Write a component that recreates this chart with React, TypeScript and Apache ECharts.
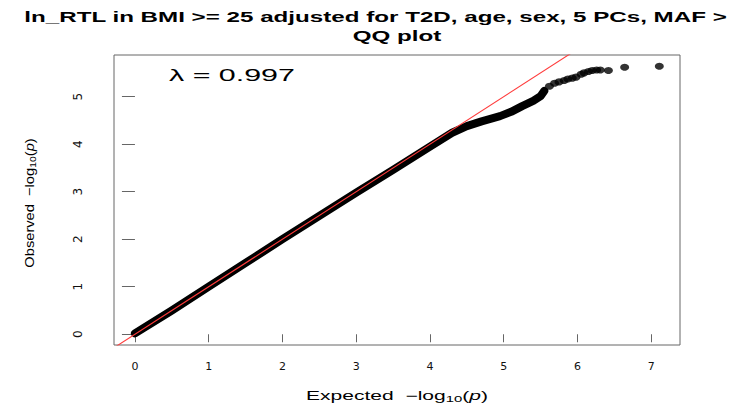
import { useEffect, useRef } from "react";
import * as echarts from "echarts";

// ---------- data ----------
const TITLE_LINE1 = "ln_RTL in BMI >= 25 adjusted for T2D, age, sex, 5 PCs, MAF >";
const TITLE_LINE2 = "QQ plot";
const LAMBDA_LABEL = "λ = 0.997";
const X_TICKS = [0, 1, 2, 3, 4, 5, 6, 7];
const Y_TICKS = [0, 1, 2, 3, 4, 5];

// dense part of the QQ plot (points overlap into a continuous band)
const bandExpected = [0.0, 0.5, 1.0, 1.5, 2.0, 2.5, 3.0, 3.5, 4.0, 4.3, 4.5, 4.7, 4.95, 5.1, 5.25, 5.4, 5.5, 5.55];
const bandObserved = [0.02, 0.5, 1.0, 1.5, 2.0, 2.49, 2.98, 3.46, 3.95, 4.24, 4.38, 4.48, 4.59, 4.68, 4.8, 4.91, 5.01, 5.12];

// sparse tail points
const tailExpected = [5.62, 5.69, 5.75, 5.82, 5.87, 5.93, 5.98, 6.05, 6.09, 6.15, 6.2, 6.26, 6.31, 6.42, 6.64, 7.11];
const tailObserved = [5.22, 5.28, 5.31, 5.34, 5.37, 5.39, 5.41, 5.47, 5.5, 5.53, 5.55, 5.56, 5.56, 5.55, 5.62, 5.64];

// reference line y = x
const refLineX = [-1, 8];

const X_MIN = -0.284, X_MAX = 7.39;
const Y_MIN = -0.226, Y_MAX = 5.876;

const FONT = '"Liberation Sans", Arial, Helvetica, sans-serif';

function measure(text: string, font: string): number {
  const ctx = document.createElement("canvas").getContext("2d")!;
  ctx.font = font;
  return ctx.measureText(text).width;
}

export default function App() {
  const ref = useRef<HTMLDivElement>(null);

  useEffect(() => {
    if (!ref.current) return;
    const chart = echarts.init(ref.current, undefined, { renderer: "svg" });

    const titleFont = `bold 15px ${FONT}`;
    const t1w = measure(TITLE_LINE1, titleFont);
    const titleScale = 703 / t1w;

    const lamFont = `17px ${FONT}`;
    const lamScale = 126 / measure(LAMBDA_LABEL, lamFont);

    const nameSize = 12;
    const subSize = 8.5;
    const nameNat =
      measure("Expected  \u2212log", `${nameSize}px ${FONT}`) +
      measure("10", `${subSize}px ${FONT}`) +
      measure("(", `${nameSize}px ${FONT}`) +
      measure("p", `italic ${nameSize}px ${FONT}`) +
      measure(")", `${nameSize}px ${FONT}`);
    const xNameScale = 182 / nameNat;
    const yNameScale = 127 / nameNat;

    const richName = {
      n: { fontSize: nameSize, fontFamily: FONT, fill: "#000", lineHeight: 16, verticalAlign: "middle" },
      s: { fontSize: subSize, fontFamily: FONT, fill: "#000", lineHeight: 16, verticalAlign: "bottom", padding: [6, 0, 0, 0] },
      i: { fontSize: nameSize, fontFamily: FONT, fontStyle: "italic", fill: "#000", lineHeight: 16, verticalAlign: "middle" },
    };
    const nameText = "{n|Expected  \u2212log}{s|10}{n|(}{i|p}{n|)}";
    const yNameText = "{n|Observed  \u2212log}{s|10}{n|(}{i|p}{n|)}";

    const option: any = {
      animation: false,
      backgroundColor: "#fff",
      grid: {
        left: 114,
        top: 55,
        width: 566,
        height: 290,
        show: true,
        borderColor: "#666",
        borderWidth: 1,
        backgroundColor: "transparent",
      },
      xAxis: {
        type: "value",
        min: X_MIN,
        max: X_MAX,
        axisLine: { show: false },
        splitLine: { show: false },
        axisTick: { show: true, length: 8, customValues: X_TICKS, lineStyle: { color: "#666", width: 1 } },
        axisLabel: {
          customValues: X_TICKS,
          margin: 16,
          fontSize: 11,
          fontFamily: '"DejaVu Sans", sans-serif',
          color: "#111",
        },
      },
      yAxis: {
        type: "value",
        min: Y_MIN,
        max: Y_MAX,
        axisLine: { show: false },
        splitLine: { show: false },
        axisTick: { show: true, length: 13, customValues: Y_TICKS, lineStyle: { color: "#666", width: 1 } },
        axisLabel: {
          customValues: Y_TICKS,
          rotate: 90,
          margin: 30,
          fontSize: 12,
          fontFamily: '"DejaVu Sans", sans-serif',
          color: "#111",
        },
      },
      series: [
        {
          type: "line",
          data: bandExpected.map((e, i) => [e, bandObserved[i]]),
          showSymbol: false,
          symbol: "none",
          lineStyle: { color: "#000", width: 8, cap: "round", join: "round" },
          z: 2,
          silent: true,
        },
        {
          type: "scatter",
          data: tailExpected.map((e, i) => [e, tailObserved[i]]),
          symbol: "circle",
          symbolSize: [9, 7],
          itemStyle: { color: "#000" },
          z: 2,
          silent: true,
        },
        {
          type: "line",
          data: refLineX.map((v) => [v, v]),
          showSymbol: false,
          symbol: "none",
          clip: true,
          lineStyle: { color: "#ff3b3b", width: 1.1 },
          z: 3,
          silent: true,
        },
      ],
      graphic: [
        {
          type: "text",
          x: 375.5,
          y: 17,
          scaleX: titleScale,
          style: {
            text: TITLE_LINE1,
            font: titleFont,
            fill: "#000",
            align: "center",
            verticalAlign: "middle",
            textAlign: "center",
            textVerticalAlign: "middle",
          },
        },
        {
          type: "text",
          x: 397,
          y: 36,
          scaleX: titleScale,
          style: {
            text: TITLE_LINE2,
            font: titleFont,
            fill: "#000",
            align: "center",
            verticalAlign: "middle",
            textAlign: "center",
            textVerticalAlign: "middle",
          },
        },
        {
          type: "text",
          x: 169,
          y: 75,
          scaleX: lamScale,
          style: {
            text: LAMBDA_LABEL,
            font: lamFont,
            fill: "#000",
            align: "left",
            verticalAlign: "middle",
            textAlign: "left",
            textVerticalAlign: "middle",
          },
        },
        {
          type: "text",
          x: 397,
          y: 396,
          scaleX: xNameScale,
          style: {
            text: nameText,
            rich: richName,
            align: "center",
            verticalAlign: "middle",
            textAlign: "center",
            textVerticalAlign: "middle",
          },
        },
        {
          type: "text",
          x: 29,
          y: 203,
          rotation: Math.PI / 2,
          scaleX: yNameScale,
          scaleY: 1.1,
          style: {
            text: yNameText,
            rich: richName,
            align: "center",
            verticalAlign: "middle",
            textAlign: "center",
            textVerticalAlign: "middle",
          },
        },
      ],
    };

    chart.setOption(option);
    return () => chart.dispose();
  }, []);

  return (
    <div
      ref={ref}
      style={{ position: "fixed", left: 0, top: 0, width: 737, height: 404, background: "#fff" }}
    />
  );
}
